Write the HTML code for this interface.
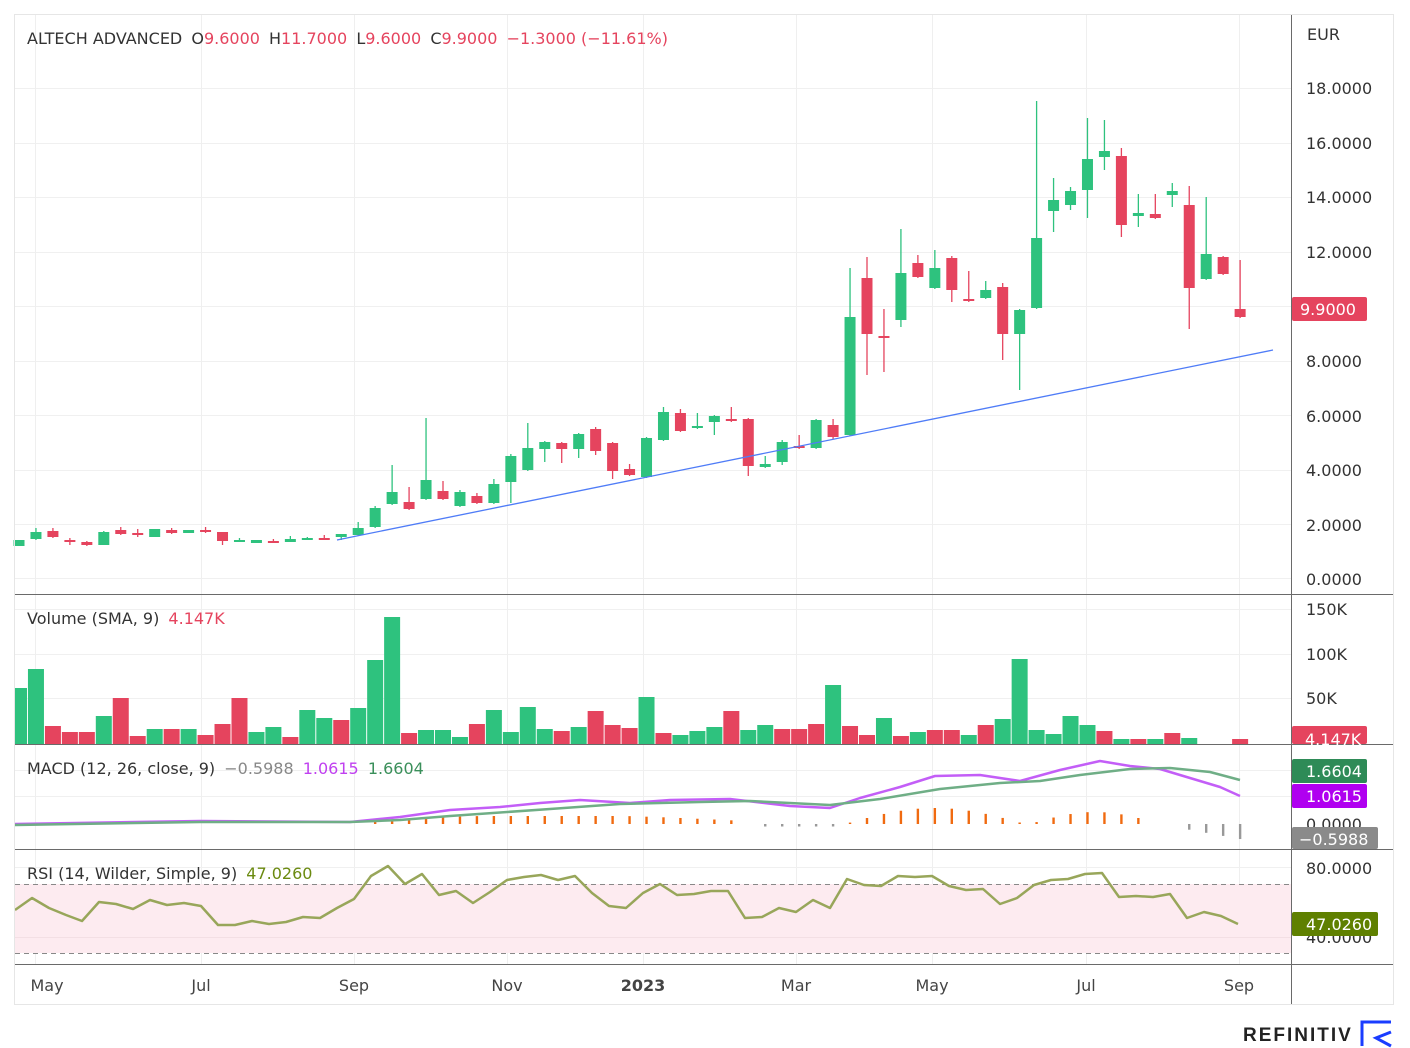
<!DOCTYPE html>
<html><head><meta charset="utf-8">
<style>
html,body{margin:0;padding:0;background:#fff;}
svg{display:block;font-family:"DejaVu Sans","Liberation Sans",sans-serif;}
</style></head>
<body>
<svg id="s" width="1410" height="1048" viewBox="0 0 1410 1048" xmlns="http://www.w3.org/2000/svg">
<rect width="1410" height="1048" fill="#fff"/>
<g id="g"></g>
<!-- frame -->
<rect x="14.5" y="14.5" width="1379" height="990" fill="none" stroke="#e6e6e6"/>
<line x1="1291.5" y1="15" x2="1291.5" y2="1004" stroke="#6a6a6a"/>
<line x1="15" y1="594.5" x2="1393" y2="594.5" stroke="#6a6a6a"/>
<line x1="15" y1="744.5" x2="1393" y2="744.5" stroke="#6a6a6a"/>
<line x1="15" y1="849.5" x2="1393" y2="849.5" stroke="#6a6a6a"/>
<line x1="15" y1="964.5" x2="1393" y2="964.5" stroke="#6a6a6a"/>
<g font-size="16" fill="#333">
<text x="27" y="44">ALTECH ADVANCED <tspan dx="4">O</tspan><tspan fill="#e5445e">9.6000</tspan> <tspan dx="4">H</tspan><tspan fill="#e5445e">11.7000</tspan> <tspan dx="4">L</tspan><tspan fill="#e5445e">9.6000</tspan> <tspan dx="4">C</tspan><tspan fill="#e5445e">9.9000</tspan> <tspan dx="4" fill="#e5445e">−1.3000 (−11.61%)</tspan></text>
<text x="27" y="624">Volume (SMA, 9) <tspan dx="4" fill="#e5445e">4.147K</tspan></text>
<text x="27" y="774">MACD (12, 26, close, 9) <tspan dx="4" fill="#888">−0.5988</tspan> <tspan dx="4" fill="#c040f0">1.0615</tspan> <tspan dx="4" fill="#3a8f5a">1.6604</tspan></text>
<text x="27" y="879">RSI (14, Wilder, Simple, 9) <tspan dx="4" fill="#6b8a10">47.0260</tspan></text>
</g>
<g font-size="16" fill="#333">
<text x="1307" y="40">EUR</text>
<text x="1306" y="94">18.0000</text>
<text x="1306" y="149">16.0000</text>
<text x="1306" y="203">14.0000</text>
<text x="1306" y="258">12.0000</text>
<text x="1306" y="367">8.0000</text>
<text x="1306" y="422">6.0000</text>
<text x="1306" y="476">4.0000</text>
<text x="1306" y="531">2.0000</text>
<text x="1306" y="585">0.0000</text>
<text x="1306" y="615">150K</text>
<text x="1306" y="660">100K</text>
<text x="1306" y="704">50K</text>
<text x="1306" y="830">0.0000</text>
<text x="1306" y="874">80.0000</text>
<text x="1306" y="943">40.0000</text>
</g>
<g font-size="16" fill="#fff">
<rect x="1292" y="297" width="75" height="24" rx="2" fill="#e5445e"/><text x="1300" y="315">9.9000</text>
<rect x="1292" y="726" width="75" height="18" rx="2" fill="#e5445e"/><text x="1305" y="745">4.147K</text>
<rect x="1292" y="759" width="75" height="24" rx="2" fill="#2e8b57"/><text x="1306" y="777">1.6604</text>
<rect x="1292" y="784" width="75" height="24" rx="2" fill="#b000f0"/><text x="1306" y="802">1.0615</text>
<rect x="1292" y="827" width="86" height="22" rx="2" fill="#8a8a8a"/><text x="1299" y="845">−0.5988</text>
<rect x="1292" y="912" width="86" height="24" rx="2" fill="#5f8000"/><text x="1306" y="930">47.0260</text>
</g>
<g font-size="16" fill="#444" text-anchor="middle">
<text x="47" y="991">May</text><text x="201" y="991">Jul</text><text x="354" y="991">Sep</text>
<text x="507" y="991">Nov</text><text x="643" y="991" font-weight="bold">2023</text><text x="796" y="991">Mar</text>
<text x="932" y="991">May</text><text x="1086" y="991">Jul</text><text x="1239" y="991">Sep</text>
</g>
<text x="1243" y="1041" font-size="19" font-weight="bold" fill="#222" letter-spacing="2" font-family="Liberation Sans, sans-serif">REFINITIV</text>
<path d="M1362 1046 V1022 H1391" fill="none" stroke="#1a3cff" stroke-width="3"/>
<path d="M1391 1032 L1376 1038 L1391 1046" fill="none" stroke="#1a3cff" stroke-width="3"/>
</svg>
<script>
const NS="http://www.w3.org/2000/svg",g=document.getElementById('g');
function el(t,a){const e=document.createElementNS(NS,t);for(const k in a)e.setAttribute(k,a[k]);g.appendChild(e);return e;}
const G="#2ec27e",R="#e5445e";
// grid
[88,143,197,252,306,361,415,470,524,578].forEach(y=>el('line',{x1:15,x2:1291,y1:y+.5,y2:y+.5,stroke:"#f0f0f0"}));
[609,654,698].forEach(y=>el('line',{x1:15,x2:1291,y1:y+.5,y2:y+.5,stroke:"#f0f0f0"}));
[770,796].forEach(y=>el('line',{x1:15,x2:1291,y1:y+.5,y2:y+.5,stroke:"#f0f0f0"}));
[35,201,354,507,643,796,932,1086,1239].forEach(x=>el('line',{x1:x+.5,x2:x+.5,y1:15,y2:964,stroke:"#efefef"}));
// rsi background
el('rect',{x:15,y:884,width:1276,height:69,fill:"#fdebf0"});
el('line',{x1:15,x2:1291,y1:867.5,y2:867.5,stroke:"#f0f0f0"});
el('line',{x1:15,x2:1291,y1:937.5,y2:937.5,stroke:"#f3dfe4"});
[884,953].forEach(y=>el('line',{x1:15,x2:1291,y1:y+.5,y2:y+.5,stroke:"#888","stroke-dasharray":"5,4"}));
// candles: [top,bottom,wickTop,wickBot,color]
const C=[
[540,546,540,546,G],[532,539,528,540,G],[531,537,528,538,R],[540,542,538,545,R],[542,545,541,546,R],
[532,545,531,545,G],[530,534,527,535,R],[533,535,529,537,R],[529,537,529,537,G],[530,533,528,534,R],
[530,533,530,533,G],[530,532,527,533,R],[532,541,532,545,R],[540,541,538,542,G],[540,543,540,543,G],
[541,542,539,542,R],[539,542,536,542,G],[538,539,537,540,G],[538,539,535,540,R],[534,537,534,540,G],
[528,535,522,536,G],[508,527,506,528,G],[492,504,465,505,G],[502,509,487,510,R],[480,499,418,500,G],
[491,499,481,500,R],[492,506,490,507,G],[496,503,493,504,R],[484,503,479,504,G],[456,482,454,503,G],
[448,470,423,471,G],[442,449,441,462,G],[443,449,442,463,R],[434,449,433,458,G],[429,451,427,455,R],
[443,471,442,479,R],[469,475,464,476,R],[438,477,437,478,G],[412,440,407,441,G],[413,431,409,432,R],
[426,428,413,429,G],[416,422,415,435,G],[419,421,407,422,R],[419,466,418,476,R],[464,467,456,468,G],
[442,462,440,465,G],[446,448,435,449,R],[420,448,419,449,G],[425,437,419,439,R],[317,435,268,436,G],
[278,334,257,375,R],[336,338,309,372,R],[273,320,229,327,G],[263,277,255,278,R],[268,288,250,289,G],
[258,290,256,302,R],[299,301,271,302,R],[290,298,281,299,G],[287,334,283,360,R],[310,334,309,390,G],
[238,308,101,309,G],[200,211,178,232,G],[191,205,187,210,G],[159,190,118,218,G],[151,157,120,170,G],
[156,225,148,237,R],[213,216,194,227,G],[214,218,194,219,R],[191,195,183,207,G],[205,288,186,329,R],
[254,279,197,280,G],[257,274,256,275,R],[309,317,260,318,R]];
const X=i=>19+16.96*i;
C.forEach((c,i)=>{const x=X(i);
el('line',{x1:x,x2:x,y1:c[2],y2:c[3],stroke:c[4],"stroke-width":1.3});
el('rect',{x:x-5.5,y:c[0],width:11,height:Math.max(2,c[1]-c[0]),fill:c[4]});});
el('line',{x1:337,y1:540,x2:1273,y2:350,stroke:"#4f7cf7","stroke-width":1.3});
// volume
const V=[[688,G],[669,G],[726,R],[732,R],[732,R],[716,G],[698,R],[736,R],[729,G],[729,R],[729,G],[735,R],[724,R],[698,R],[732,G],[727,G],[737,R],[710,G],[718,G],[720,R],[708,G],[660,G],[617,G],[733,R],[730,G],[730,G],[737,G],[724,R],[710,G],[732,G],[707,G],[729,G],[731,R],[727,G],[711,R],[725,R],[728,R],[697,G],[733,R],[735,G],[731,G],[727,G],[711,R],[730,G],[725,G],[729,R],[729,R],[724,R],[685,G],[726,R],[735,R],[718,G],[736,R],[732,G],[730,R],[730,R],[735,G],[725,R],[719,G],[659,G],[730,G],[734,G],[716,G],[725,G],[731,R],[739,G],[739,R],[739,G],[733,R],[738,G],[744,G],[744,G],[739,R]];
V.forEach((v,i)=>{const x=X(i)-8;el('rect',{x:Math.max(15,x),y:v[0],width:x<15?16-(15-x):16,height:744-v[0],fill:v[1]});});
// macd histogram
const H=[];for(let i=0;i<73;i++){let x=X(i),h=0;
 if(x>360&&x<745)h=-Math.min(8,3+Math.sin((x-360)/385*Math.PI)*6);
 if(x>750&&x<840)h=2.5;
 if(x>845&&x<1025)h=-Math.max(1,16*Math.sin((x-845)/180*Math.PI));
 if(x>1030&&x<1150)h=-Math.max(1,12*Math.sin((x-1030)/130*Math.PI));
 if(x>1180)h=4+(x-1180)/60*11;
 if(h!==0)el('rect',{x:x-1.2,y:h<0?824+h:824,width:2.4,height:Math.abs(h),fill:h<0?"#f06a10":"#999"});}
function poly(pts,col,w){el('polyline',{points:pts.map(p=>p.join(',')).join(' '),fill:"none",stroke:col,"stroke-width":w,"stroke-linejoin":"round"});}
poly([[15,824],[200,821],[350,822],[400,817],[450,810],[500,807],[540,803],[580,800],[630,803],[670,800],[730,799],[790,806],[830,808],[860,798],[900,787],[935,776],[980,775],[1020,781],[1060,770],[1100,761],[1130,766],[1160,769],[1190,778],[1220,787],[1240,796]],"#c35ef7",2.5);
poly([[15,825],[200,822],[350,822],[400,820],[450,816],[550,809],[620,804],[700,802],[750,801],[830,805],[880,799],[940,789],[1000,783],[1040,781],[1080,775],[1130,769],[1170,768],[1210,772],[1240,780]],"#6fae86",2.5);
// rsi
const Rs=[[15,910],[32,898],[49,908],[66,915],[82,921],[99,902],[116,904],[133,909],[150,900],[167,905],[184,903],[201,906],[218,925],[235,925],[252,921],[269,924],[286,922],[303,917],[320,918],[337,908],[354,899],[371,876],[388,866],[405,884],[422,874],[439,895],[456,891],[473,903],[490,892],[507,880],[524,877],[541,875],[558,880],[575,876],[592,893],[609,906],[626,908],[643,893],[660,884],[677,895],[694,894],[711,891],[728,891],[745,918],[762,917],[779,908],[796,912],[813,900],[830,908],[847,879],[864,885],[881,886],[898,876],[915,877],[932,876],[949,886],[966,890],[983,889],[1000,904],[1017,898],[1034,885],[1051,880],[1068,879],[1085,874],[1102,873],[1119,897],[1136,896],[1153,897],[1170,894],[1187,918],[1204,912],[1221,916],[1238,924]];
poly(Rs,"#98a65a",2.5);
</script>
</body></html>
